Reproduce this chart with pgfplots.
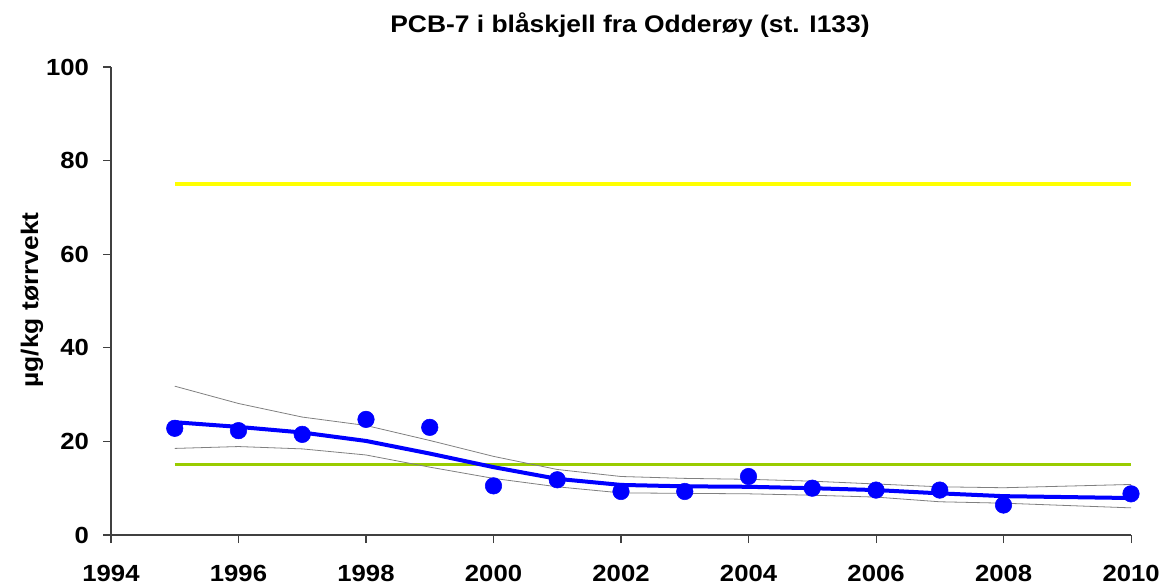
\documentclass[border=0pt]{standalone}
\usepackage{pgfplots}
\pgfplotsset{compat=1.18}
\usepackage{fontspec}
\setmainfont[FakeStretch=1.1]{Liberation Sans}
\definecolor{lgreen}{RGB}{153,204,0}
\definecolor{myyellow}{RGB}{255,255,0}
\begin{document}
\begin{tikzpicture}[x=1pt,y=1pt]
\begin{axis}[
  at={(83.25pt,38.25pt)}, anchor=south west,
  scale only axis, width=765pt, height=351pt,
  xmin=1994, xmax=2010, ymin=0, ymax=100,
  xtick={1994,1996,...,2010}, ytick={0,20,...,100},
  axis x line*=bottom, axis y line*=left,
  axis line style={color=black!75, line width=0.8pt},
  tick style={color=black!75, line width=0.8pt},
  tick align=outside, major tick length=6pt,
  /pgf/number format/assume math mode=true,
  /pgf/number format/1000 sep={},
  ticklabel style={font=\fontsize{17.5}{20}\selectfont\bfseries},
  xticklabel style={yshift=-13pt},
  yticklabel style={xshift=-7pt},
  clip=false,
]
\addplot[myyellow, line width=2.3pt] coordinates {(1995,75) (2010,75)};
\addplot[lgreen, line width=2.3pt] coordinates {(1995,15) (2010,15)};
\addplot[gray, line width=0.6pt] coordinates {
(1995,31.8) (1996,28.1) (1997,25.2) (1998,23.4) (1999,20.2) (2000,16.8) (2001,14.0) (2002,12.5) (2003,12.1) (2004,11.9) (2005,11.5) (2006,10.9) (2007,10.3) (2008,10.1) (2010,10.8)};
\addplot[gray, line width=0.6pt] coordinates {
(1995,18.5) (1996,18.9) (1997,18.4) (1998,17.1) (1999,14.5) (2000,12.1) (2001,10.3) (2002,9.0) (2003,8.9) (2004,8.8) (2005,8.5) (2006,8.1) (2007,7.1) (2008,6.8) (2010,5.8)};
\addplot[blue, line width=3pt] coordinates {
(1995,24.1) (1996,23.1) (1997,21.9) (1998,20.1) (1999,17.4) (2000,14.5) (2001,12.0) (2002,10.7) (2003,10.4) (2004,10.3) (2005,10.0) (2006,9.6) (2007,8.9) (2008,8.3) (2010,7.9)};
\addplot[only marks, mark=*, mark size=6.2pt, blue, mark options={fill=blue, draw=blue}] coordinates {
(1995,22.8) (1996,22.3) (1997,21.5) (1998,24.7) (1999,23.0) (2000,10.5) (2001,11.8) (2002,9.3) (2003,9.3) (2004,12.5) (2005,10.0) (2006,9.6) (2007,9.6) (2008,6.4) (2010,8.8)};
\end{axis}
\node[font=\fontsize{18}{21}\selectfont\bfseries] at (472.5pt,420.75pt) {PCB-7 i blåskjell fra Odderøy (st. I133)};
\node[font=\fontsize{18}{21}\selectfont\bfseries, rotate=90] at (24pt,214.5pt) {µg/kg tørrvekt};
\pgfresetboundingbox
\useasboundingbox (0,0) rectangle (875.25pt,439.5pt);
\end{tikzpicture}
\end{document}
